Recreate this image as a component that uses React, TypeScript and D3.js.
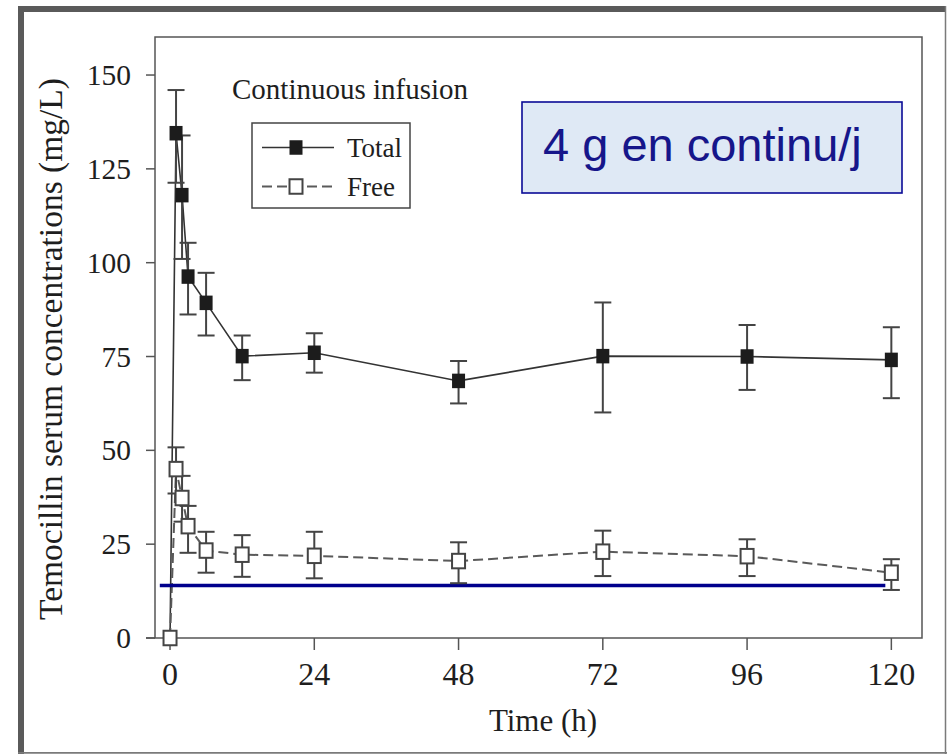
import React from "react";
import * as d3 from "d3";

const times = [0, 1, 2, 3, 6, 12, 24, 48, 72, 96, 120];
const totalMean = [0, 134.5, 118, 96.3, 89.3, 75.1, 76, 68.5, 75.1, 75, 74.1];
const totalUpper = [null, 146, 133.9, 105.3, 97.3, 80.6, 81.2, 73.8, 89.4, 83.4, 82.8];
const totalLower = [null, 121.3, 101, 86.2, 80.6, 68.7, 70.7, 62.5, 60.1, 66.1, 63.9];
const freeMean = [0, 45, 37.3, 29.8, 23.3, 22.2, 21.9, 20.5, 23, 21.8, 17.4];
const freeUpper = [null, 50.8, 43.2, 35.2, 28.3, 27.4, 28.3, 25.5, 28.6, 26.3, 21];
const freeLower = [null, 38.5, 31, 22.7, 17.4, 16.3, 15.9, 14.6, 16.5, 16.5, 12.8];
const xTicks = [0, 24, 48, 72, 96, 120];
const yTicks = [0, 25, 50, 75, 100, 125, 150];
const thresholdValue = 14;
const thresholdRange = [-1.7, 119];
const legendLabels = ["Total", "Free"];
const panelTitle = "Continuous infusion";
const boxLabel = "4 g en continu/j";
const xLabel = "Time (h)";
const yLabel = "Temocillin serum concentrations (mg/L)";

const W = 947;
const H = 754;
const serif = "'Liberation Serif', 'Times New Roman', serif";
const sans = "'Liberation Sans', Arial, sans-serif";

export default function App() {
  const x = d3.scaleLinear().domain([-2.5, 125.1]).range([155, 922]);
  const y = d3.scaleLinear().domain([0, 160]).range([638, 37.5]);

  const mk = (mean: number[], up: (number | null)[], lo: (number | null)[]) =>
    times.map((t, i) => ({ t, v: mean[i], up: up[i], lo: lo[i] }));
  const total = mk(totalMean, totalUpper, totalLower);
  const free = mk(freeMean, freeUpper, freeLower);

  const line = d3
    .line<{ t: number; v: number }>()
    .x((d) => x(d.t))
    .y((d) => y(d.v));

  const capW = 8.5;
  const sqW = 13;
  const sqH = 14.5;
  const barColor = "#444";

  const errBars = (data: typeof total, key: string) =>
    data
      .filter((d) => d.up != null && d.lo != null)
      .map((d, i) => (
        <g key={key + i} stroke={barColor} strokeWidth={2}>
          <line x1={x(d.t)} x2={x(d.t)} y1={y(d.up as number)} y2={y(d.lo as number)} />
          <line x1={x(d.t) - capW} x2={x(d.t) + capW} y1={y(d.up as number)} y2={y(d.up as number)} />
          <line x1={x(d.t) - capW} x2={x(d.t) + capW} y1={y(d.lo as number)} y2={y(d.lo as number)} />
        </g>
      ));

  return (
    <svg
      width={W}
      height={H}
      style={{ position: "absolute", left: 0, top: 0, background: "#fff" }}
    >
      <rect x={0} y={0} width={W} height={H} fill="#fff" />
      {/* outer frame */}
      <rect x={18} y={6} width={928} height={6} fill="#5a5a5a" />
      <rect x={18} y={6} width={6} height={748} fill="#5a5a5a" />
      <line x1={945.5} x2={945.5} y1={6} y2={754} stroke="#7a7a7a" strokeWidth={1.5} />
      <line x1={18} x2={947} y1={752.8} y2={752.8} stroke="#7a7a7a" strokeWidth={1.8} />

      {/* plot frame */}
      <rect x={155} y={37} width={767} height={601} fill="none" stroke="#555" strokeWidth={1.5} />
      <line x1={146} x2={155} y1={638} y2={638} stroke="#555" strokeWidth={1.5} />

      {/* y ticks */}
      {yTicks.map((v) => (
        <g key={"yt" + v}>
          <line x1={146} x2={155} y1={y(v)} y2={y(v)} stroke="#555" strokeWidth={1.5} />
          <text
            x={131}
            y={y(v) + 10}
            textAnchor="end"
            fontFamily={serif}
            fontSize={29.5}
            fill="#1e1e1e"
          >
            {v}
          </text>
        </g>
      ))}
      {/* x ticks */}
      {xTicks.map((t) => (
        <g key={"xt" + t}>
          <line x1={x(t)} x2={x(t)} y1={638} y2={650} stroke="#555" strokeWidth={1.5} />
          <text
            x={x(t)}
            y={685}
            textAnchor="middle"
            fontFamily={serif}
            fontSize={32}
            fill="#1e1e1e"
          >
            {t}
          </text>
        </g>
      ))}

      <text x={543} y={731} textAnchor="middle" fontFamily={serif} fontSize={31} fill="#1e1e1e">
        {xLabel}
      </text>
      <text
        transform={`translate(62,349) rotate(-90)`}
        textAnchor="middle"
        fontFamily={serif}
        fontSize={33.5}
        fill="#1e1e1e"
      >
        {yLabel}
      </text>

      {/* series lines */}
      <path d={line(total) || ""} fill="none" stroke="#333" strokeWidth={1.6} />
      <path
        d={line(free) || ""}
        fill="none"
        stroke="#5a5a5a"
        strokeWidth={2}
        strokeDasharray="10,5"
      />

      {/* threshold */}
      <line
        x1={x(thresholdRange[0])}
        x2={x(thresholdRange[1])}
        y1={y(thresholdValue)}
        y2={y(thresholdValue)}
        stroke="#00008c"
        strokeWidth={3.5}
      />

      {errBars(total, "te")}
      {errBars(free, "fe")}

      {total.map((d, i) => (
        <rect
          key={"ts" + i}
          x={x(d.t) - sqW / 2}
          y={y(d.v) - sqH / 2}
          width={sqW}
          height={sqH}
          fill="#1c1c1c"
        />
      ))}
      {free.map((d, i) => (
        <rect
          key={"fs" + i}
          x={x(d.t) - sqW / 2}
          y={y(d.v) - sqH / 2}
          width={sqW}
          height={sqH}
          fill="#fff"
          stroke="#444"
          strokeWidth={2}
        />
      ))}

      {/* title */}
      <text x={232} y={99} fontFamily={serif} fontSize={29} fill="#1e1e1e">
        {panelTitle}
      </text>

      {/* legend */}
      <rect x={252} y={123} width={158} height={85} fill="#fff" stroke="#444" strokeWidth={1.5} />
      <line x1={262} x2={334} y1={147.5} y2={147.5} stroke="#333" strokeWidth={1.6} />
      <rect x={296 - sqW / 2} y={147.5 - sqH / 2} width={sqW} height={sqH} fill="#1c1c1c" />
      <text x={347} y={157} fontFamily={serif} fontSize={27} fill="#1e1e1e">
        {legendLabels[0]}
      </text>
      <line
        x1={262}
        x2={334}
        y1={186.5}
        y2={186.5}
        stroke="#5a5a5a"
        strokeWidth={2}
        strokeDasharray="10,5"
      />
      <rect
        x={296 - sqW / 2}
        y={186.5 - sqH / 2}
        width={sqW}
        height={sqH}
        fill="#fff"
        stroke="#444"
        strokeWidth={2}
      />
      <text x={347} y={196} fontFamily={serif} fontSize={27} fill="#1e1e1e">
        {legendLabels[1]}
      </text>

      {/* annotation box */}
      <rect x={522} y={102} width={380} height={91} fill="#dfe9f5" stroke="#0a0a96" strokeWidth={1.6} />
      <text x={543} y={161} fontFamily={sans} fontSize={47} fill="#16168a">
        {boxLabel}
      </text>
    </svg>
  );
}
